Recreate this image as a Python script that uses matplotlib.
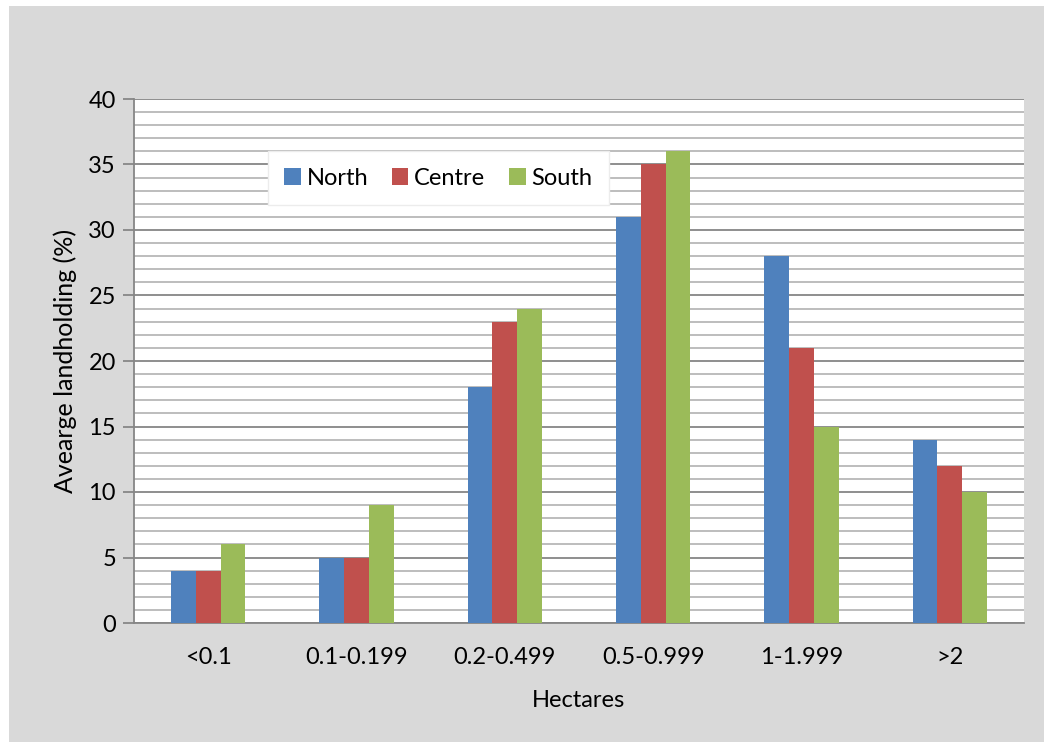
import numpy as np
import matplotlib.pyplot as plt
from matplotlib.patches import Rectangle
from matplotlib.ticker import MultipleLocator

# landholding share by farm size class and region
categories = ['<0.1', '0.1-0.199', '0.2-0.499', '0.5-0.999', '1-1.999', '>2']
north = [4, 5, 18, 31, 28, 14]
centre = [4, 5, 23, 35, 21, 12]
south = [6, 9, 24, 36, 15, 10]

series = {'North': (north, '#4f81bd'),
          'Centre': (centre, '#c0504d'),
          'South': (south, '#9bbb59')}

plt.rcParams['font.family'] = ['Lato', 'DejaVu Sans']

fig = plt.figure(figsize=(10.44, 7.42), dpi=100, facecolor='white')
# grey chart area with a thin white margin top/left
fig.patches.append(Rectangle((9 / 1044, 0), 1 - 9 / 1044, 1 - 6 / 742,
                             transform=fig.transFigure, facecolor='#d9d9d9',
                             edgecolor='none', zorder=-10))

ax = fig.add_axes([134 / 1044, 1 - 623 / 742, 890 / 1044, 524 / 742])
ax.set_facecolor('white')

x = np.arange(len(categories))
w = 1 / 6
for i, (name, (vals, col)) in enumerate(series.items()):
    ax.bar(x + (i - 1) * w, vals, width=w, color=col, label=name, zorder=3)

ax.set_xlim(-0.5, len(categories) - 0.5)
ax.set_ylim(0, 40)
ax.yaxis.set_major_locator(MultipleLocator(5))
ax.yaxis.set_minor_locator(MultipleLocator(1))
ax.grid(which='minor', axis='y', color='#b8b8b8', linewidth=1.3, zorder=1)
ax.grid(which='major', axis='y', color='#868686', linewidth=1.3, zorder=2)
ax.set_axisbelow(True)

ax.set_xticks(x)
ax.set_xticklabels(categories)
ax.tick_params(axis='x', length=0, pad=17, labelsize=17)
ax.tick_params(axis='y', which='major', length=8, width=1.3, color='#868686',
               labelsize=17, pad=5)
ax.tick_params(axis='y', which='minor', length=0)

for s in ['top', 'right']:
    ax.spines[s].set_visible(False)
ax.spines['left'].set_color('#868686')
ax.spines['left'].set_linewidth(1.3)
ax.spines['bottom'].set_color('#868686')
ax.spines['bottom'].set_linewidth(1.3)

ax.set_xlabel('Hectares', fontsize=17, labelpad=16)
ax.set_ylabel('Avearge landholding (%)', fontsize=18, labelpad=8)

leg = ax.legend(loc='center', bbox_to_anchor=(0.342, 0.849), ncol=3,
                fontsize=17, frameon=True, fancybox=False, framealpha=1,
                edgecolor='#ececec', handlelength=0.7, handleheight=0.7,
                handletextpad=0.25, columnspacing=1.0, borderpad=0.7)
leg.get_frame().set_linewidth(1.0)

fig.savefig('out.png', dpi=100, facecolor=fig.get_facecolor())
